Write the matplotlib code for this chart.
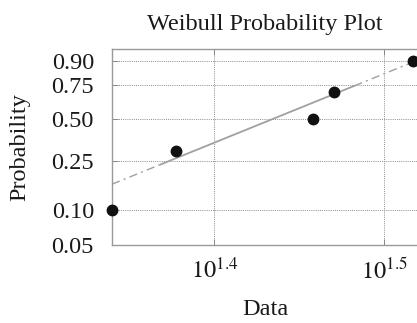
import numpy as np
import matplotlib
matplotlib.use("Agg")
import matplotlib.pyplot as plt
from matplotlib.ticker import FixedLocator, FixedFormatter

# ---- data ----
data_x = [21.86, 23.85, 28.70, 29.53, 32.86]
data_p = [0.10, 0.30, 0.50, 0.70, 0.90]
fit_shape = 6.17
fit_scale = 28.87
y_ticks = [0.05, 0.10, 0.25, 0.50, 0.75, 0.90]
y_tick_labels = ["0.05", "0.10", "0.25", "0.50", "0.75", "0.90"]
x_ticks = [10 ** 1.4, 10 ** 1.5]
x_tick_labels = [r"$10^{1.4}$", r"$10^{1.5}$"]
y_top = 0.946
x_right = 33.1

plt.rcParams["font.family"] = ["Liberation Serif", "DejaVu Serif"]
plt.rcParams["mathtext.fontset"] = "stix"

def fwd(p):
    p = np.asarray(p, dtype=float)
    with np.errstate(all="ignore"):
        return np.log(-np.log(1.0 - p))

def inv(v):
    v = np.asarray(v, dtype=float)
    with np.errstate(all="ignore"):
        return 1.0 - np.exp(-np.exp(v))

fig = plt.figure(figsize=(4.17, 3.23), dpi=100)
ax = fig.add_axes([112 / 417, 1 - 245 / 323, (418 - 112) / 417, (245 - 49) / 323])
ax.set_xscale("log")
ax.set_yscale("function", functions=(fwd, inv))

xd = np.array(data_x)
q25, q75 = np.percentile(xd, [25, 75], method="hazen")

def wcdf(x):
    return 1.0 - np.exp(-(np.asarray(x) / fit_scale) ** fit_shape)

line_col = "#a0a0a0"
xs_left = np.linspace(min(data_x), q25, 20)
xs_mid = np.linspace(q25, q75, 50)
xs_right = np.linspace(q75, max(data_x), 20)
ax.plot(xs_left, wcdf(xs_left), color=line_col, lw=1.0, ls=(0, (6, 3, 1.5, 3)), zorder=2)
ax.plot(xs_mid, wcdf(xs_mid), color=line_col, lw=1.3, ls="-", zorder=2)
ax.plot(xs_right, wcdf(xs_right), color=line_col, lw=1.0, ls=(0, (6, 3, 1.5, 3)), zorder=2)

ax.plot(data_x, data_p, "o", color="#111111", ms=7.5, zorder=3, clip_on=False)

ax.set_xlim(min(data_x), x_right)
ax.set_ylim(0.05, y_top)

ax.xaxis.set_major_locator(FixedLocator(x_ticks))
ax.xaxis.set_major_formatter(FixedFormatter(x_tick_labels))
ax.xaxis.set_minor_locator(FixedLocator([]))
ax.yaxis.set_major_locator(FixedLocator(y_ticks))
ax.yaxis.set_major_formatter(FixedFormatter(y_tick_labels))
ax.yaxis.set_minor_locator(FixedLocator([]))

ax.grid(True, color="#8c8c8c", ls=(0, (1, 1.2)), lw=0.7)
ax.tick_params(direction="in", length=4, width=0.7, colors="#888888",
               labelcolor="#1a1a1a", labelsize=17.5, top=True, right=False)
ax.tick_params(axis="y", pad=13)
ax.tick_params(axis="x", pad=9)
for s in ["left", "bottom", "top"]:
    ax.spines[s].set_color("#999999")
    ax.spines[s].set_linewidth(1.0)
ax.spines["right"].set_visible(False)

ax.set_title("Weibull Probability Plot", fontsize=17.5, color="#1a1a1a", pad=14)
ax.set_xlabel("Data", fontsize=17.5, color="#1a1a1a", labelpad=11)
ax.set_ylabel("Probability", fontsize=17.5, color="#1a1a1a", labelpad=15)

fig.savefig("out.png", dpi=100)
